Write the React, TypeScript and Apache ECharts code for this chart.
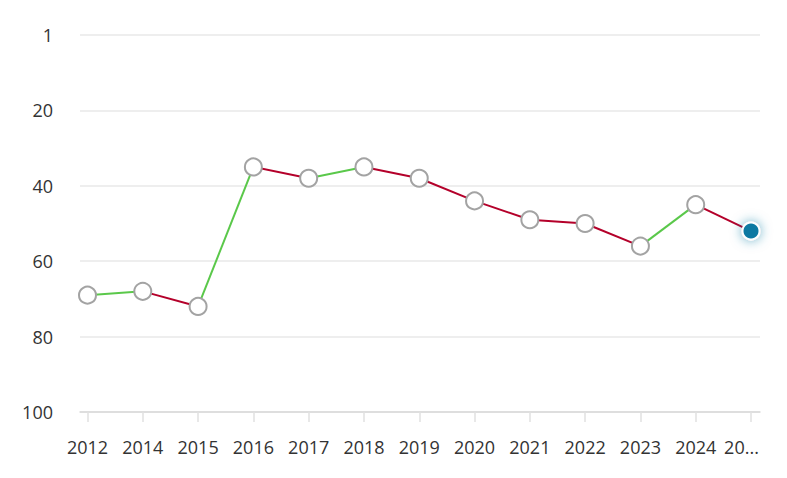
import React, { useEffect, useRef } from "react";
import * as echarts from "echarts";

const years = ["2012", "2014", "2015", "2016", "2017", "2018", "2019", "2020", "2021", "2022", "2023", "2024", "2025"];
const ranks = [69, 68, 72, 35, 38, 35, 38, 44, 49, 50, 56, 45, 52];
const yTicks = [0, 20, 40, 60, 80, 100];

const GREEN = "#5ac84a";
const RED = "#b4002a";
const FONT = "'Open Sans', sans-serif";

export default function App() {
  const ref = useRef<HTMLDivElement>(null);
  useEffect(() => {
    if (!ref.current) return;
    const chart = echarts.init(ref.current, null, { renderer: "svg" });
    const last = ranks.length - 1;

    const segSeries = ranks.slice(0, last).map((v, i) => {
      const next = ranks[i + 1];
      const data = ranks.map((r, j) => (j === i || j === i + 1 ? r : null));
      return {
        type: "line",
        xAxisIndex: 1,
        yAxisIndex: 1,
        data,
        showSymbol: false,
        symbol: "none",
        connectNulls: false,
        lineStyle: { width: 2, color: next < v ? GREEN : RED },
        itemStyle: { color: next < v ? GREEN : RED },
        silent: true,
        z: 2,
      };
    });

    const pointData = ranks.map((r, i) =>
      i === last
        ? {
            value: r,
            symbolSize: 17,
            itemStyle: {
              color: "#0b79a2",
              borderColor: "#ffffff",
              borderWidth: 2,
              shadowBlur: 12,
              shadowColor: "rgba(11,121,162,0.6)",
              opacity: 1,
            },
          }
        : r
    );

    chart.setOption({
      animation: false,
      grid: [
        { left: 80, right: 27, top: 35, bottom: 66 },
        { left: 87.5, right: 36, top: 35, bottom: 66 },
      ],
      xAxis: [
        {
          type: "category",
          gridIndex: 0,
          position: "bottom",
          data: years,
          axisLine: { show: true, onZero: false, lineStyle: { color: "#d9d9d9", width: 1.5 } },
          axisTick: { show: false },
          axisLabel: { show: false },
          splitLine: { show: false },
        },
        {
          type: "category",
          gridIndex: 1,
          position: "bottom",
          data: years,
          boundaryGap: false,
          axisLine: { show: false, onZero: false },
          axisTick: { show: true, length: 10, inside: false, lineStyle: { color: "#e0e0e0", width: 1.5 } },
          axisLabel: {
            color: "#333",
            fontSize: 18,
            fontFamily: FONT,
            margin: 26,
            interval: 0,
            formatter: (v: string, i: number) => (i === last ? "{t|" + v.slice(0, 2) + "...}" : v),
            rich: { t: { color: "#333", fontSize: 18, fontFamily: FONT, padding: [0, 19, 0, 0] } },
          },
        },
      ],
      yAxis: [
        {
          type: "value",
          gridIndex: 0,
          inverse: true,
          min: yTicks[0],
          max: yTicks[yTicks.length - 1],
          interval: 20,
          axisLine: { show: false },
          axisTick: { show: false },
          axisLabel: {
            color: "#333",
            fontSize: 18,
            fontFamily: FONT,
            margin: 27,
            formatter: (v: number) => (v === 0 ? "1" : String(v)),
          },
          splitLine: { show: true, lineStyle: { color: "#e8e8e8", width: 1.5 } },
        },
        {
          type: "value",
          gridIndex: 1,
          inverse: true,
          min: yTicks[0],
          max: yTicks[yTicks.length - 1],
          interval: 20,
          show: false,
          splitLine: { show: false },
        },
      ],
      series: [
        ...segSeries,
        {
          type: "line",
          xAxisIndex: 1,
          yAxisIndex: 1,
          data: pointData,
          lineStyle: { width: 0, opacity: 0 },
          symbol: "circle",
          symbolSize: 17,
          showSymbol: true,
          itemStyle: { color: "#ffffff", borderColor: "#a3a3a3", borderWidth: 2 },
          z: 3,
        },
      ],
    });
    return () => chart.dispose();
  }, []);
  return <div ref={ref} style={{ width: 787, height: 478, position: "absolute", left: 0, top: 0 }} />;
}
